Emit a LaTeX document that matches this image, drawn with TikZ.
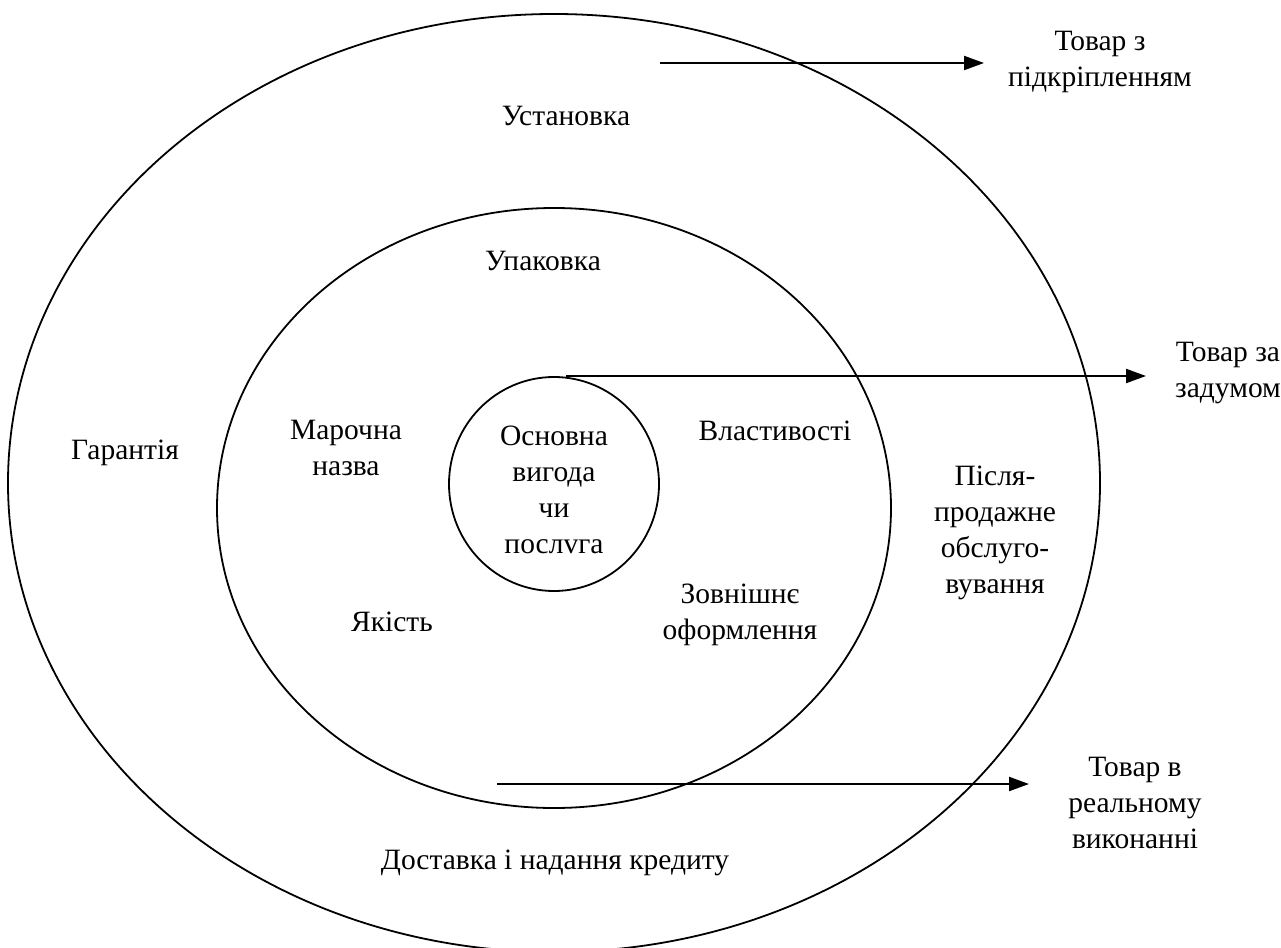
\documentclass[tikz,border=0pt]{standalone}
\usepackage{fontspec}
\setmainfont{Liberation Serif}
\usetikzlibrary{arrows.meta}
\begin{document}
\begin{tikzpicture}[x=1pt,y=-1pt,
  ring/.style={line width=1.8pt},
  pointer/.style={line width=2.2pt,-{Triangle[length=20pt,width=14pt]}},
  lbl/.style={font=\fontsize{29.5}{36}\selectfont,align=center,inner sep=0pt}]
\useasboundingbox (0,0) rectangle (1281,947);
\fill[white] (0,0) rectangle (1281,947);
\clip (0,0) rectangle (1281,947);
% rings
\draw[ring] (554,483) ellipse [x radius=546, y radius=469];
\draw[ring] (554,508) ellipse [x radius=337, y radius=300];
\draw[ring] (554,484) ellipse [x radius=105, y radius=107];
% labels
\node[lbl] (tpid) at (1100,62) {Товар з\\підкріпленням};
\node[lbl] (tzad) at (1228,373) {Товар за\\задумом};
\node[lbl] (treal) at (1135,803) {Товар в\\реальному\\виконанні};
\node[lbl] (ust) at (566,116) {Установка};
\node[lbl] (upak) at (543,261) {Упаковка};
\node[lbl] (gar) at (125,453) {Гарантія};
\node[lbl] (mar) at (346,448) {Марочна\\назва};
\node[lbl] (osn) at (554,490) {Основна\\вигода\\чи\\послvга};
\node[lbl] (vlas) at (775,431) {Властивості};
\node[lbl] (pisl) at (995,533) {Після-\\продажне\\обслуго-\\вування};
\node[lbl] (zovn) at (740,615) {Зовнішнє\\оформлення};
\node[lbl] (yak) at (392,622) {Якість};
\node[lbl] (dost) at (555,863) {Доставка і надання кредиту};
% arrows
\coordinate (a1s) at (660,63);
\coordinate (a1e) at (984,63);
\coordinate (a2s) at (566,376);
\coordinate (a2e) at (1146,376);
\coordinate (a3s) at (497,784);
\coordinate (a3e) at (1029,784);
\draw[pointer] (a1s) -- (a1e);
\draw[pointer] (a2s) -- (a2e);
\draw[pointer] (a3s) -- (a3e);
\end{tikzpicture}
\end{document}
